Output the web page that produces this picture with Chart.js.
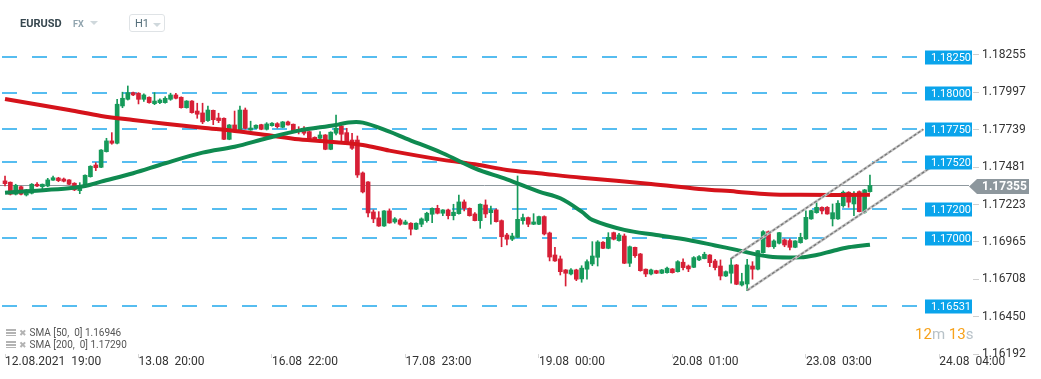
<!DOCTYPE html>
<html><head><meta charset="utf-8">
<script src="https://cdn.jsdelivr.net/npm/chart.js@4.4.1/dist/chart.umd.min.js"></script>
<style>
body{margin:0;background:#fff;font-family:Roboto,sans-serif;}
#wrap{position:relative;width:1041px;height:379px;overflow:hidden;}
#c{position:absolute;left:0;top:0;}
.ov{position:absolute;white-space:pre;}
#sym{left:20px;top:17px;height:14px;line-height:14px;font:bold 11px Roboto;color:#37474f;}
#fx{left:73px;top:19px;line-height:10px;font:bold 9px Roboto;color:#90a4ae;}
.caret{position:absolute;width:0;height:0;border-left:4px solid transparent;border-right:4px solid transparent;border-top:4px solid #cfd8dc;}
#tf{left:129px;top:14px;width:34px;height:16px;border:1px solid #dfe3e6;border-radius:3px;}
#tfTxt{left:135px;top:17px;line-height:14px;font:11px Roboto;color:#546e7a;}
.leg{left:6px;height:12px;line-height:12px;font:10px Roboto;color:#555;}
.ico{display:inline-block;width:10px;height:7px;vertical-align:0px;background:repeating-linear-gradient(#b3b3b3 0 2px,transparent 2px 3px);margin-right:3px;}
.x{color:#b3b3b3;font-size:9px;font-family:"DejaVu Sans";margin-right:3px;}
#timer{left:915px;top:325px;line-height:18px;font:15px Roboto;}
#timer .o{color:#f7a21b}#timer .g{color:#b8c2c8}
</style></head><body>
<div id="wrap">
<canvas id="c" width="1041" height="379"></canvas>
<div class="ov" id="sym">EURUSD</div>
<div class="ov" id="fx">FX</div>
<div class="caret" style="left:90px;top:21px"></div>
<div class="ov" id="tf"></div>
<div class="ov" id="tfTxt">H1</div>
<div class="caret" style="left:153px;top:23px"></div>
<div class="ov leg" style="top:327px"><span class="ico"></span><span class="x">✖</span>SMA [50,  0] 1.16946</div>
<div class="ov leg" style="top:339px"><span class="ico"></span><span class="x">✖</span>SMA [200,  0] 1.17290</div>
<div class="ov" id="timer"><span class="o">12</span><span class="g">m</span> <span class="o">13</span><span class="g">s</span></div>
</div>
<script>
// ---- tick labels ----
const xTickIdx = [0, 25, 50, 75, 100, 125, 150, 175];
const xTickLabels = ['12.08.2021  19:00', '13.08  20:00', '16.08  22:00', '17.08  23:00', '19.08  00:00', '20.08  01:00', '23.08  03:00', '24.08  04:00'];
const yTickVals = [1.18255, 1.17997, 1.17739, 1.17481, 1.17223, 1.16965, 1.16708, 1.16450, 1.16192];

// ---- H1 candles (index = hour bar) ----
const openP = [1.17386,1.17377,1.17294,1.17346,1.17289,1.17301,1.17363,1.17346,1.17351,1.17391,
1.17406,1.17399,1.17393,1.17370,1.17319,1.17346,1.17415,1.17496,1.17480,1.17588,
1.17662,1.17646,1.17903,1.17949,1.17995,1.17991,1.17949,1.17963,1.17919,1.17926,
1.17926,1.17949,1.17979,1.17963,1.17891,1.17937,1.17868,1.17855,1.17802,1.17873,
1.17820,1.17818,1.17673,1.17772,1.17737,1.17875,1.17737,1.17749,1.17774,1.17742,
1.17767,1.17781,1.17756,1.17793,1.17777,1.17742,1.17733,1.17726,1.17687,1.17680,
1.17703,1.17604,1.17715,1.17765,1.17719,1.17668,1.17668,1.17441,1.17379,1.17172,
1.17131,1.17075,1.17179,1.17103,1.17117,1.17087,1.17094,1.17053,1.17087,1.17112,
1.17156,1.17197,1.17163,1.17186,1.17146,1.17160,1.17241,1.17197,1.17158,1.17112,
1.17220,1.17167,1.17186,1.17112,1.17013,1.16984,1.16997,1.17112,1.17133,1.17087,
1.17087,1.17140,1.17027,1.16875,1.16848,1.16772,1.16744,1.16772,1.16710,1.16777,
1.16813,1.16859,1.16963,1.16921,1.17029,1.16974,1.17006,1.16818,1.16928,1.16882,
1.16777,1.16744,1.16767,1.16749,1.16753,1.16779,1.16760,1.16825,1.16799,1.16790,
1.16841,1.16850,1.16875,1.16834,1.16799,1.16730,1.16749,1.16806,1.16668,1.16675,
1.16799,1.16777,1.16891,1.17036,1.16932,1.16956,1.16979,1.16974,1.16928,1.16960,
1.16986,1.17124,1.17167,1.17204,1.17204,1.17124,1.17124,1.17215,1.17308,1.17227,
1.17312,1.17170,1.17312];
const highP = [1.17420,1.17379,1.17363,1.17350,1.17328,1.17368,1.17374,1.17365,1.17404,1.17420,
1.17411,1.17406,1.17396,1.17374,1.17374,1.17428,1.17491,1.17512,1.17603,1.17680,
1.17719,1.17949,1.17998,1.18041,1.17998,1.17995,1.17986,1.17966,1.17995,1.17953,
1.17967,1.17991,1.17991,1.17966,1.17940,1.17940,1.17922,1.17922,1.17903,1.17875,
1.17853,1.17822,1.17775,1.17868,1.17903,1.17889,1.17798,1.17773,1.17777,1.17788,
1.17788,1.17788,1.17796,1.17798,1.17779,1.17760,1.17760,1.17730,1.17690,1.17726,
1.17706,1.17725,1.17841,1.17779,1.17749,1.17715,1.17696,1.17448,1.17382,1.17186,
1.17174,1.17182,1.17193,1.17133,1.17126,1.17115,1.17098,1.17097,1.17131,1.17170,
1.17201,1.17218,1.17188,1.17191,1.17225,1.17289,1.17255,1.17200,1.17167,1.17228,
1.17255,1.17213,1.17193,1.17117,1.17025,1.17025,1.17420,1.17158,1.17137,1.17160,
1.17143,1.17145,1.17033,1.16928,1.16868,1.16775,1.16781,1.16777,1.16801,1.16841,
1.16967,1.16974,1.16967,1.17029,1.17033,1.17025,1.17020,1.16937,1.16930,1.16886,
1.16779,1.16777,1.16770,1.16775,1.16791,1.16782,1.16836,1.16848,1.16806,1.16864,
1.16871,1.16894,1.16878,1.16845,1.16841,1.16765,1.16852,1.16810,1.16749,1.16845,
1.16829,1.16907,1.17043,1.17041,1.16979,1.17031,1.16986,1.16986,1.16974,1.17025,
1.17179,1.17184,1.17236,1.17207,1.17209,1.17227,1.17250,1.17317,1.17312,1.17312,
1.17317,1.17328,1.17427];
const lowP = [1.17351,1.17289,1.17289,1.17290,1.17282,1.17296,1.17346,1.17324,1.17346,1.17390,
1.17381,1.17379,1.17360,1.17319,1.17298,1.17343,1.17412,1.17457,1.17477,1.17585,
1.17639,1.17641,1.17891,1.17944,1.17974,1.17917,1.17935,1.17922,1.17912,1.17919,
1.17922,1.17942,1.17951,1.17888,1.17888,1.17854,1.17818,1.17781,1.17797,1.17774,
1.17788,1.17670,1.17670,1.17733,1.17733,1.17744,1.17735,1.17746,1.17739,1.17737,
1.17763,1.17751,1.17753,1.17770,1.17727,1.17710,1.17703,1.17665,1.17670,1.17675,
1.17601,1.17601,1.17703,1.17657,1.17646,1.17604,1.17410,1.17303,1.17137,1.17098,
1.17072,1.17072,1.17094,1.17094,1.17080,1.17085,1.17013,1.17050,1.17070,1.17101,
1.17098,1.17158,1.17146,1.17124,1.17117,1.17156,1.17179,1.17143,1.17110,1.17059,
1.17133,1.17087,1.17102,1.16932,1.16944,1.16974,1.16994,1.17087,1.17070,1.17084,
1.17084,1.17013,1.16834,1.16830,1.16737,1.16661,1.16737,1.16698,1.16687,1.16708,
1.16801,1.16799,1.16918,1.16918,1.16979,1.16971,1.16815,1.16795,1.16859,1.16763,
1.16726,1.16737,1.16746,1.16746,1.16749,1.16750,1.16757,1.16772,1.16760,1.16788,
1.16836,1.16848,1.16795,1.16772,1.16703,1.16726,1.16680,1.16670,1.16661,1.16629,
1.16708,1.16772,1.16888,1.16930,1.16921,1.16951,1.16932,1.16910,1.16925,1.16956,
1.16983,1.17121,1.17163,1.17158,1.17156,1.17075,1.17121,1.17204,1.17204,1.17146,
1.17172,1.17163,1.17308];
const closeP = [1.17367,1.17294,1.17356,1.17294,1.17324,1.17363,1.17351,1.17363,1.17393,1.17408,
1.17388,1.17384,1.17363,1.17324,1.17351,1.17425,1.17487,1.17477,1.17599,1.17662,
1.17646,1.17915,1.17956,1.17995,1.17979,1.17949,1.17979,1.17926,1.17937,1.17944,
1.17956,1.17979,1.17956,1.17891,1.17937,1.17857,1.17846,1.17793,1.17875,1.17808,
1.17802,1.17673,1.17772,1.17737,1.17875,1.17749,1.17751,1.17770,1.17742,1.17779,
1.17784,1.17760,1.17793,1.17772,1.17730,1.17726,1.17715,1.17668,1.17673,1.17703,
1.17604,1.17722,1.17749,1.17708,1.17657,1.17611,1.17427,1.17310,1.17165,1.17124,
1.17075,1.17179,1.17096,1.17124,1.17087,1.17103,1.17053,1.17094,1.17124,1.17163,
1.17197,1.17163,1.17186,1.17146,1.17170,1.17241,1.17197,1.17146,1.17112,1.17225,
1.17158,1.17186,1.17105,1.17001,1.16984,1.17006,1.17121,1.17133,1.17087,1.17103,
1.17140,1.17020,1.16861,1.16834,1.16760,1.16749,1.16772,1.16708,1.16784,1.16829,
1.16868,1.16965,1.16921,1.16997,1.16984,1.17013,1.16818,1.16932,1.16870,1.16767,
1.16744,1.16772,1.16749,1.16772,1.16784,1.16753,1.16829,1.16788,1.16779,1.16857,
1.16864,1.16880,1.16822,1.16788,1.16730,1.16760,1.16806,1.16673,1.16691,1.16806,
1.16777,1.16905,1.17036,1.16932,1.16972,1.17029,1.16944,1.16928,1.16972,1.16997,
1.17135,1.17181,1.17204,1.17179,1.17158,1.17167,1.17232,1.17308,1.17239,1.17282,
1.17174,1.17324,1.17355];

// ---- moving averages (sampled along the bars) ----
const sma50Idx = [0,5,12,15,18,24,30,37,43,49,55,62,64,67,72,75,82,88,94,100,104,108,110,116,122,128,133,137,143,149,152,155,158,162];
const sma50Val = [1.17305,1.17317,1.17335,1.17351,1.17381,1.17439,1.17508,1.17581,1.17622,1.17680,1.17733,1.17772,1.17788,1.17788,1.17726,1.17680,1.17577,1.17473,1.17397,1.17312,1.17266,1.17174,1.17117,1.17048,1.17013,1.16979,1.16941,1.16910,1.16864,1.16859,1.16875,1.16903,1.16928,1.16946];
const sma200Idx = [0,12,18,24,30,37,43,49,55,62,67,72,82,88,94,100,108,121,130,137,143,149,162];
const sma200Val = [1.17951,1.17875,1.17834,1.17806,1.17781,1.17753,1.17731,1.17703,1.17673,1.17653,1.17634,1.17595,1.17531,1.17501,1.17462,1.17439,1.17408,1.17365,1.17331,1.17312,1.17294,1.17290,1.17290];

// ---- drawn objects ----
const levels = [1.18250, 1.18000, 1.17750, 1.17520, 1.17200, 1.17000, 1.16531];
const chanUpperIdx = [136, 172], chanUpperVal = [1.16850, 1.17742];
const chanLowerIdx = [139, 175], chanLowerVal = [1.16631, 1.17519];
const lastPrice = closeP[closeP.length - 1];

const UP = '#169a5a', DN = '#d71f36';
const idx = openP.map((_, i) => i);
const colors = idx.map(i => closeP[i] >= openP[i] ? UP : DN);
const pts = (xs, ys) => xs.map((x, k) => ({x, y: ys[k]}));

const overlay = {
  id: 'overlay',
  beforeDatasetsDraw(chart) {
    const {ctx, chartArea: a, scales: {y}} = chart;
    ctx.save();
    ctx.setLineDash([15, 15]); ctx.lineDashOffset = -2;
    ctx.strokeStyle = '#1fa8ec'; ctx.lineWidth = 1.5;
    levels.forEach(v => {
      const py = Math.round(y.getPixelForValue(v)) + 1;
      ctx.beginPath(); ctx.moveTo(a.left, py); ctx.lineTo(a.right - 48, py); ctx.stroke();
    });
    ctx.setLineDash([]);
    const pp = Math.round(y.getPixelForValue(lastPrice)) + 0.5;
    ctx.strokeStyle = '#8f999f'; ctx.lineWidth = 1;
    ctx.beginPath(); ctx.moveTo(a.left, pp); ctx.lineTo(a.right - 4, pp); ctx.stroke();
    ctx.restore();
  },
  afterDraw(chart) {
    const {ctx, chartArea: a, scales: {y}} = chart;
    ctx.save();
    ctx.font = '11px Roboto'; ctx.textBaseline = 'middle'; ctx.textAlign = 'left';
    levels.forEach(v => {
      const py = Math.round(y.getPixelForValue(v)) + 1.5;
      ctx.fillStyle = '#0aa4eb';
      ctx.fillRect(a.right - 48, py - 7, 47, 14);
      ctx.fillStyle = '#ffffff';
      ctx.fillText(v.toFixed(5), a.right - 42, py + 0.5);
    });
    const pp = y.getPixelForValue(lastPrice) + 1;
    ctx.fillStyle = '#8d979d';
    ctx.beginPath();
    ctx.moveTo(a.right - 4, pp);
    ctx.lineTo(a.right + 4, pp - 7.5);
    ctx.lineTo(a.right + 56, pp - 7.5);
    ctx.lineTo(a.right + 56, pp + 7.5);
    ctx.lineTo(a.right + 4, pp + 7.5);
    ctx.closePath(); ctx.fill();
    ctx.fillStyle = '#ffffff'; ctx.font = 'bold 12px Roboto';
    ctx.fillText(lastPrice.toFixed(5), a.right + 9, pp + 0.5);
    ctx.restore();
  }
};

new Chart(document.getElementById('c'), {
  type: 'bar',
  data: {
    datasets: [
      {type: 'line', label: 'chanU-d', data: pts(chanUpperIdx, chanUpperVal), borderColor: '#777', borderWidth: 1.3, borderDash: [3, 2], pointRadius: 0, order: -2},
      {type: 'line', label: 'chanL-d', data: pts(chanLowerIdx, chanLowerVal), borderColor: '#777', borderWidth: 1.3, borderDash: [3, 2], pointRadius: 0, order: -2},
      {type: 'line', label: 'chanU', data: pts(chanUpperIdx, chanUpperVal), borderColor: '#c4c4c4', borderWidth: 2.5, pointRadius: 0, order: -1},
      {type: 'line', label: 'chanL', data: pts(chanLowerIdx, chanLowerVal), borderColor: '#c4c4c4', borderWidth: 2.5, pointRadius: 0, order: -1},
      {type: 'line', label: 'SMA 50', data: pts(sma50Idx, sma50Val), borderColor: '#0f8a50', borderWidth: 4, pointRadius: 0, tension: 0.35, order: 0},
      {type: 'line', label: 'SMA 200', data: pts(sma200Idx, sma200Val), borderColor: '#d5131b', borderWidth: 4, pointRadius: 0, tension: 0.35, order: 0},
      {type: 'bar', label: 'body', data: idx.map(i => ({x: i, y: [openP[i], closeP[i]]})), backgroundColor: colors, barThickness: 4, minBarLength: 1, grouped: false, order: 1},
      {type: 'bar', label: 'wick', data: idx.map(i => ({x: i, y: [lowP[i], highP[i]]})), backgroundColor: colors, barThickness: 1, grouped: false, order: 2}
    ]
  },
  options: {
    responsive: false, animation: false, events: [],
    layout: {padding: 0},
    plugins: {legend: {display: false}, tooltip: {enabled: false}},
    scales: {
      x: {
        type: 'linear', min: -0.94, max: 181.3, offset: false,
        grid: {display: true, drawOnChartArea: false, drawTicks: true, tickLength: 4, color: '#d6d6d6', offset: false},
        border: {display: false},
        ticks: {align: 'start', padding: -3, color: '#333', font: {family: 'Roboto', size: 12}, autoSkip: false, maxRotation: 0,
          callback: (v, i) => xTickLabels[i]},
        afterBuildTicks: s => { s.ticks = xTickIdx.map(v => ({value: v})); },
        afterFit: s => { s.height = 25; s.paddingLeft = 0; }
      },
      y: {
        type: 'linear', position: 'right', min: 1.16192, max: 1.18634,
        grid: {drawOnChartArea: false, drawTicks: true, tickLength: 6, color: '#cfcfcf'},
        border: {display: false},
        ticks: {padding: 3, color: '#333', font: {family: 'Roboto', size: 12}, callback: v => v.toFixed(5)},
        afterBuildTicks: s => { s.ticks = yTickVals.map(v => ({value: v})); },
        afterFit: s => { s.width = 68; s.paddingTop = 0; s.paddingBottom = 0; }
      }
    }
  },
  plugins: [overlay]
});
</script>
</body></html>
